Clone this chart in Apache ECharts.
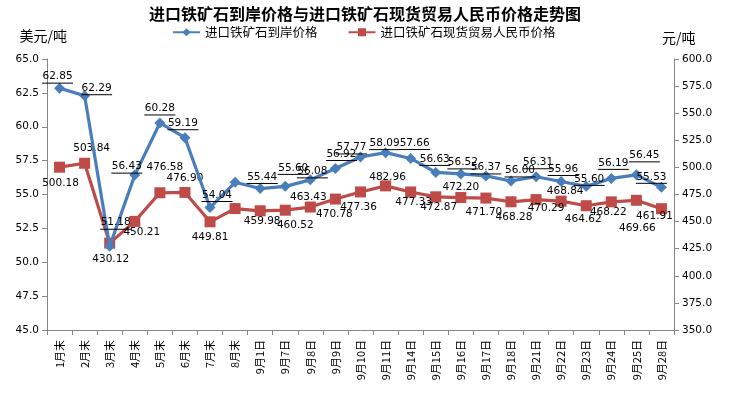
<!DOCTYPE html>
<html><head><meta charset="utf-8">
<script src="https://cdn.jsdelivr.net/npm/echarts@6/dist/echarts.min.js"></script>
<style>html,body{margin:0;padding:0;background:#fff}#c{width:730px;height:395px}</style>
</head><body><div id="c"></div>
<script>
const categories = ['1月末','2月末','3月末','4月末','5月末','6月末','7月末','8月末','9月1日','9月7日','9月8日','9月9日','9月10日','9月11日','9月14日','9月15日','9月16日','9月17日','9月18日','9月21日','9月22日','9月23日','9月24日','9月25日','9月28日'];
const usdPrice = [62.85,62.29,51.18,56.43,60.28,59.19,54.04,55.90,55.44,55.60,56.08,56.92,57.77,58.09,57.66,56.63,56.52,56.37,56.00,56.31,55.96,55.60,56.19,56.45,55.53];
const rmbPrice = [500.18,503.84,430.12,450.21,476.58,476.90,449.81,462.0,459.98,460.52,463.43,470.78,477.36,482.96,477.33,472.87,472.20,471.70,468.28,470.29,468.84,464.62,468.22,469.66,461.91];
const usdLabelShown = [1,1,1,1,1,1,1,0,1,1,1,1,1,1,1,1,1,1,1,1,1,1,1,1,1];
const rmbLabelShown = [1,1,1,1,1,1,1,0,1,1,1,1,1,1,1,1,1,1,1,1,1,1,1,1,1];
const leftTicks = {min:45, max:65, interval:2.5};
const rightTicks = {min:350, max:600, interval:25};
const seriesNames = ['进口铁矿石到岸价格','进口铁矿石现货贸易人民币价格'];

// label placement offsets (style only)
const usdLabelOffset = [[-2,-11],[12,-7],[6,-23],[-8,-8],[0,-14],[-2,-14],[7,-12],[0,0],[2,-11],[8,-18],[2,-8],[6,-14],[-9,-9],[-1,-9],[4,-15],[-1,-13],[2,-11],[0,-8],[9,-10],[2,-14],[2,-12],[3,-7],[2,-15],[8,-19],[-10,-10]];
const rmbLabelOffset = [[1,16],[7,-15],[1,16],[7,11],[5,-26],[0,-14],[0,15],[0,0],[2,10],[10,15],[-2,-10],[-1,15],[-2,15],[2,-9],[3,10],[3,10],[0,-10],[-2,14],[3,15],[10,9],[4,-10],[-3,14],[-3,10],[1,28],[-7,8]];

const BLUE = '#4A7EBB', RED = '#BE4B48';
const numFont = 'DejaVu Sans';
const cjk = '"Noto Sans CJK SC", sans-serif';

function usdData(){
  return usdPrice.map((v,i)=>({
    value:v,
    label:{show:!!usdLabelShown[i], offset:usdLabelOffset[i]}
  }));
}
function rmbData(){
  return rmbPrice.map((v,i)=>({
    value:v,
    label:{show:!!rmbLabelShown[i], offset:rmbLabelOffset[i]}
  }));
}

const chart = echarts.init(document.getElementById('c'), null, {renderer:'canvas'});
chart.setOption({
  animation:false,
  backgroundColor:'#fff',
  title:{
    text:'进口铁矿石到岸价格与进口铁矿石现货贸易人民币价格走势图',
    left:'center', top:1,
    textStyle:{fontFamily:cjk, fontSize:16, fontWeight:'bold', color:'#000'}
  },
  legend:{
    left:167, top:21, itemWidth:27, itemHeight:10, itemGap:30,
    textStyle:{fontFamily:cjk, fontSize:12.5, color:'#000'},
    data:seriesNames
  },
  grid:{left:47, right:56, top:59, bottom:65},
  xAxis:{
    type:'category', data:categories, boundaryGap:true,
    axisLine:{lineStyle:{color:'#868686', width:1}},
    axisTick:{show:true, length:5, lineStyle:{color:'#868686'}},
    axisLabel:{rotate:90, interval:0, fontFamily:cjk, fontSize:11, color:'#000', margin:10}
  },
  yAxis:[
    {type:'value', min:leftTicks.min, max:leftTicks.max, interval:leftTicks.interval,
     name:'美元/吨', nameLocation:'end', nameGap:16,
     nameTextStyle:{fontFamily:cjk, fontSize:14, color:'#000', align:'right', padding:[0,-20,0,0]},
     axisLine:{show:true, lineStyle:{color:'#868686'}},
     axisTick:{show:true, length:5, lineStyle:{color:'#868686'}},
     splitLine:{show:false},
     axisLabel:{fontFamily:numFont, fontSize:10.5, color:'#000', margin:8, formatter:v=>v.toFixed(1)}
    },
    {type:'value', min:rightTicks.min, max:rightTicks.max, interval:rightTicks.interval,
     name:'元/吨', nameLocation:'end', nameGap:14,
     nameTextStyle:{fontFamily:cjk, fontSize:14, color:'#000', align:'left', padding:[0,0,0,-12]},
     axisLine:{show:true, lineStyle:{color:'#868686'}},
     axisTick:{show:true, length:5, lineStyle:{color:'#868686'}},
     splitLine:{show:false},
     axisLabel:{fontFamily:numFont, fontSize:10.5, color:'#000', margin:8, formatter:v=>v.toFixed(1)}
    }
  ],
  series:[
    {
      name:seriesNames[0], type:'line', yAxisIndex:0, data:usdData(),
      symbol:'diamond', symbolSize:11,
      lineStyle:{color:BLUE, width:3.2}, itemStyle:{color:BLUE},
      label:{
        show:true, position:['50%','50%'], align:'center', verticalAlign:'middle',
        formatter:p=>'{t|'+p.value.toFixed(2)+'}\n{u|}',
        rich:{
          t:{fontFamily:numFont, fontSize:10.5, color:'#000', lineHeight:12, align:'center'},
          u:{width:31, height:1, backgroundColor:'#000', lineHeight:1, align:'center'}
        }
      },
      z:3
    },
    {
      name:seriesNames[1], type:'line', yAxisIndex:1, data:rmbData(),
      symbol:'rect', symbolSize:11,
      lineStyle:{color:RED, width:3.2}, itemStyle:{color:RED},
      label:{
        show:true, position:['50%','50%'], align:'center', verticalAlign:'middle',
        fontFamily:numFont, fontSize:10.5, color:'#000',
        formatter:p=>p.value.toFixed(2)
      },
      z:2
    }
  ]
});
</script>
</body></html>
